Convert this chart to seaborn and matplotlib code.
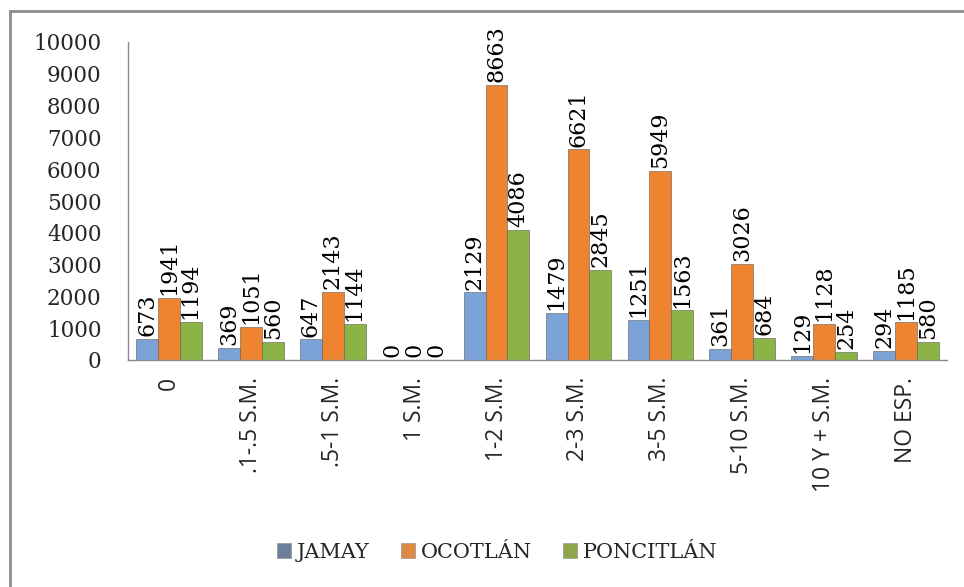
import matplotlib
matplotlib.use("Agg")
import matplotlib.pyplot as plt
import matplotlib.patches as mpatches
import seaborn as sns
import pandas as pd

categories = ["0", ".1-.5 S.M.", ".5-1 S.M.", "1 S.M.", "1-2 S.M.", "2-3 S.M.",
              "3-5 S.M.", "5-10 S.M.", "10 Y + S.M.", "NO ESP."]
series_names = ["JAMAY", "OCOTLÁN", "PONCITLÁN"]
jamay = [673, 369, 647, 0, 2129, 1479, 1251, 361, 129, 294]
ocotlan = [1941, 1051, 2143, 0, 8663, 6621, 5949, 3026, 1128, 1185]
poncitlan = [1194, 560, 1144, 0, 4086, 2845, 1563, 684, 254, 580]
y_ticks = [0, 1000, 2000, 3000, 4000, 5000, 6000, 7000, 8000, 9000, 10000]

rows = []
for name, vals in zip(series_names, [jamay, ocotlan, poncitlan]):
    for c, v in zip(categories, vals):
        rows.append({"cat": c, "serie": name, "val": v})
df = pd.DataFrame(rows)

sns.set_theme(style="white")
plt.rcParams["font.family"] = ["DejaVu Serif", "DejaVu Sans"]

fig = plt.figure(figsize=(9.64, 5.87), dpi=100)
ax = fig.add_axes([128 / 964, 1 - 360 / 587, (947 - 128) / 964, (360 - 42) / 587])

palette = {"JAMAY": "#7ba3d8", "OCOTLÁN": "#ee8430", "PONCITLÁN": "#8bb346"}
sns.barplot(data=df, x="cat", y="val", hue="serie", order=categories,
            hue_order=series_names, palette=palette, width=0.8, gap=0,
            saturation=1, ax=ax, edgecolor="#5a5a5a", linewidth=0.4)

for cont in ax.containers:
    ax.bar_label(cont, labels=[f"{int(v)}" for v in cont.datavalues],
                 rotation=90, padding=2, fontsize=16, color="black",
                 family="DejaVu Serif")

ax.set_ylim(0, 10000)
ax.set_xlim(-0.5, len(categories) - 0.5)
ax.set_yticks(y_ticks)
ax.set_yticklabels([str(t) for t in y_ticks], fontsize=15.5, family="DejaVu Serif")
ax.set_xticks(range(len(categories)))
ax.set_xticklabels(categories, rotation=90, fontsize=16.5, family="Open Sans")
ax.tick_params(axis="y", length=0, pad=19)
ax.tick_params(axis="x", length=0, pad=12)
ax.set_xlabel("")
ax.set_ylabel("")
for s in ["top", "right"]:
    ax.spines[s].set_visible(False)
for s in ["left", "bottom"]:
    ax.spines[s].set_color("#8c8c8c")
    ax.spines[s].set_linewidth(1.0)

leg = ax.get_legend()
if leg is not None:
    leg.remove()
legend_colors = {"JAMAY": "#6e7f9c", "OCOTLÁN": "#dd8a45", "PONCITLÁN": "#8ea64c"}
handles = [mpatches.Patch(facecolor=legend_colors[n], edgecolor="#888888", linewidth=0.4)
           for n in series_names]
fig.legend(handles, series_names, loc="center", bbox_to_anchor=(497 / 964, 1 - 552 / 587),
           ncol=3, frameon=False, handlelength=0.7, handleheight=0.7,
           handletextpad=0.25, columnspacing=1.5, prop={"family": "DejaVu Serif", "size": 15})

border = mpatches.Rectangle((10 / 964, -0.2), 1.5, (1 - 11 / 587) + 0.2,
                            transform=fig.transFigure, fill=False,
                            edgecolor="#8c8c8c", linewidth=2, clip_on=False)
fig.patches.append(border)

fig.savefig("out.png", dpi=100)
